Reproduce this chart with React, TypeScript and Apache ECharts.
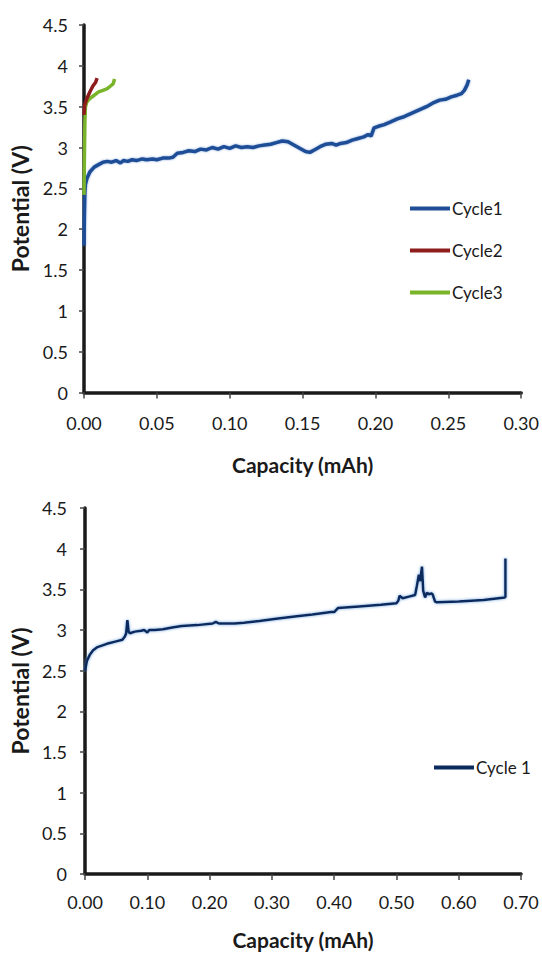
import React, { useEffect, useRef } from "react";
import * as echarts from "echarts";

const topCycle1: [number, number][] = [
  [0, 1.8], [0.0003, 2.2], [0.0006, 2.45], [0.001, 2.55], [0.002, 2.62], [0.004, 2.7],
  [0.007, 2.76], [0.01, 2.79], [0.013, 2.82], [0.016, 2.83], [0.019, 2.82], [0.022, 2.84],
  [0.025, 2.81], [0.027, 2.84], [0.03, 2.83], [0.033, 2.85], [0.036, 2.84], [0.04, 2.86],
  [0.043, 2.85], [0.047, 2.86], [0.05, 2.85], [0.054, 2.87], [0.058, 2.87], [0.061, 2.88],
  [0.064, 2.93], [0.068, 2.94], [0.072, 2.96], [0.076, 2.95], [0.08, 2.98], [0.084, 2.97],
  [0.088, 3.0], [0.092, 2.98], [0.096, 3.01], [0.1, 2.99], [0.104, 3.02], [0.108, 3.0],
  [0.112, 3.01], [0.116, 3.0], [0.12, 3.02], [0.124, 3.03], [0.128, 3.04], [0.132, 3.06],
  [0.136, 3.08], [0.14, 3.07], [0.144, 3.03], [0.148, 2.99], [0.152, 2.95], [0.155, 2.94],
  [0.158, 2.97], [0.162, 3.01], [0.166, 3.04], [0.17, 3.05], [0.173, 3.03], [0.176, 3.05],
  [0.18, 3.06], [0.184, 3.09], [0.188, 3.11], [0.192, 3.13], [0.195, 3.16], [0.197, 3.14],
  [0.199, 3.24], [0.202, 3.26], [0.206, 3.28], [0.21, 3.31], [0.215, 3.35], [0.22, 3.38],
  [0.225, 3.42], [0.23, 3.46], [0.235, 3.5], [0.24, 3.55], [0.244, 3.58], [0.248, 3.59],
  [0.252, 3.62], [0.256, 3.64], [0.259, 3.66], [0.261, 3.7], [0.263, 3.77], [0.264, 3.83],
];
const topCycle2: [number, number][] = [
  [0, 3.4], [0.0005, 3.52], [0.002, 3.6], [0.004, 3.68], [0.006, 3.75], [0.008, 3.8], [0.009, 3.85],
];
const topCycle3: [number, number][] = [
  [0, 2.42], [0.0003, 2.9], [0.0006, 3.3], [0.001, 3.5], [0.002, 3.56], [0.004, 3.6],
  [0.007, 3.64], [0.01, 3.68], [0.013, 3.7], [0.016, 3.72], [0.018, 3.75], [0.02, 3.78], [0.021, 3.84],
];
const bottomCycle1: [number, number][] = [
  [0, 2.5], [0.003, 2.62], [0.008, 2.7], [0.013, 2.75], [0.02, 2.79], [0.035, 2.83], [0.05, 2.86],
  [0.06, 2.88], [0.064, 2.92], [0.066, 2.96], [0.068, 3.12], [0.07, 2.98], [0.072, 2.96],
  [0.08, 2.98], [0.09, 2.99], [0.095, 3.0], [0.1, 2.97], [0.103, 3.0], [0.112, 3.0], [0.125, 3.01],
  [0.14, 3.03], [0.155, 3.05], [0.18, 3.06], [0.205, 3.08], [0.21, 3.1], [0.215, 3.08], [0.24, 3.08],
  [0.255, 3.09], [0.28, 3.11], [0.31, 3.14], [0.34, 3.17], [0.365, 3.19], [0.395, 3.22], [0.4, 3.22],
  [0.406, 3.27], [0.44, 3.29], [0.475, 3.31], [0.5, 3.33], [0.503, 3.36], [0.505, 3.42], [0.51, 3.39],
  [0.52, 3.41], [0.53, 3.43], [0.533, 3.55], [0.536, 3.68], [0.538, 3.6], [0.541, 3.78], [0.543, 3.48],
  [0.546, 3.4], [0.549, 3.46], [0.552, 3.44], [0.556, 3.45], [0.558, 3.44], [0.562, 3.35], [0.565, 3.34],
  [0.6, 3.35], [0.64, 3.37], [0.674, 3.4], [0.675, 3.41], [0.675, 3.88],
];

const topSeriesNames = ["Cycle1", "Cycle2", "Cycle3"];
const bottomSeriesNames = ["Cycle 1"];
const yAxisTitle = "Potential (V)";
const xAxisTitle = "Capacity (mAh)";

const FONT = "Lato, 'Open Sans', sans-serif";

function makeX(gridIndex: number, max: number, interval: number, margin: number, nameGap: number) {
  return {
    type: "value",
    gridIndex,
    min: 0,
    max,
    interval,
    name: xAxisTitle,
    nameLocation: "middle",
    nameGap,
    nameTextStyle: { fontFamily: FONT, fontSize: 21, fontWeight: "bold", color: "#1a1a1a" },
    axisLine: { show: true, onZero: false, lineStyle: { color: "#1a1a1a", width: 3.5 } },
    axisTick: { show: true, inside: false, length: 6, lineStyle: { color: "#444", width: 1.5 } },
    axisLabel: {
      margin,
      fontFamily: FONT,
      fontSize: 18,
      color: "#1a1a1a",
      formatter: (v: number) => v.toFixed(2),
    },
    splitLine: { show: false },
  };
}

function makeY(gridIndex: number, nameGap: number, margin: number) {
  return {
    type: "value",
    gridIndex,
    min: 0,
    max: 4.5,
    interval: 0.5,
    name: yAxisTitle,
    nameLocation: "middle",
    nameGap,
    nameRotate: 90,
    nameTextStyle: { fontFamily: FONT, fontSize: 23, fontWeight: "bold", color: "#1a1a1a" },
    axisLine: { show: true, onZero: false, lineStyle: { color: "#1a1a1a", width: 3.5 } },
    axisTick: { show: true, inside: false, length: 5, lineStyle: { color: "#444", width: 1.5 } },
    axisLabel: {
      margin,
      fontFamily: FONT,
      fontSize: 18,
      color: "#1a1a1a",
      formatter: (v: number) => String(v),
    },
    splitLine: { show: false },
  };
}

export default function App() {
  const ref = useRef<HTMLDivElement>(null);
  useEffect(() => {
    if (!ref.current) return;
    const chart = echarts.init(ref.current, undefined, { renderer: "svg" });
    const legendCommon = {
      orient: "vertical",
      icon: "rect",
      itemWidth: 40,
      itemHeight: 4,
      itemGap: 25,
      padding: 0,
      textStyle: { fontFamily: FONT, fontSize: 17, color: "#1a1a1a", padding: [0, 0, 0, -3] },
      selectedMode: false,
    };
    chart.setOption({
      animation: false,
      backgroundColor: "#fff",
      grid: [
        { left: 84, top: 25, width: 438, height: 367.5 },
        { left: 82, top: 508, width: 439, height: 366 },
      ],
      xAxis: [makeX(0, 0.3, 0.05, 21, 61), makeX(1, 0.7, 0.1, 19, 55)],
      yAxis: [makeY(0, 51, 16), makeY(1, 50, 18)],
      legend: [
        { ...legendCommon, data: topSeriesNames, left: 410, top: 200 },
        { ...legendCommon, data: bottomSeriesNames, left: 434, top: 759 },
      ],
      series: [
        {
          name: topSeriesNames[0], type: "line", xAxisIndex: 0, yAxisIndex: 0, data: topCycle1,
          showSymbol: false, symbol: "none", color: "#1f4e96",
          lineStyle: { width: 3.5, color: "#1f4e96", shadowColor: "rgba(60,110,190,0.6)", shadowBlur: 2 },
        },
        {
          name: topSeriesNames[2], type: "line", xAxisIndex: 0, yAxisIndex: 0, data: topCycle3,
          showSymbol: false, symbol: "none", color: "#7ab42a",
          lineStyle: { width: 3.5, color: "#7ab42a" },
        },
        {
          name: topSeriesNames[1], type: "line", xAxisIndex: 0, yAxisIndex: 0, data: topCycle2,
          showSymbol: false, symbol: "none", color: "#8e1c1c",
          lineStyle: { width: 3.5, color: "#8e1c1c" },
        },
        {
          name: bottomSeriesNames[0], type: "line", xAxisIndex: 1, yAxisIndex: 1, data: bottomCycle1,
          showSymbol: false, symbol: "none", color: "#0b2a5e",
          lineStyle: { width: 2.5, color: "#0b2a5e", shadowColor: "rgba(80,140,210,0.8)", shadowBlur: 3 },
        },
      ],
    });
    return () => chart.dispose();
  }, []);
  return (
    <div
      ref={ref}
      style={{ position: "absolute", left: 0, top: 0, width: 542, height: 956, background: "#fff" }}
    />
  );
}
